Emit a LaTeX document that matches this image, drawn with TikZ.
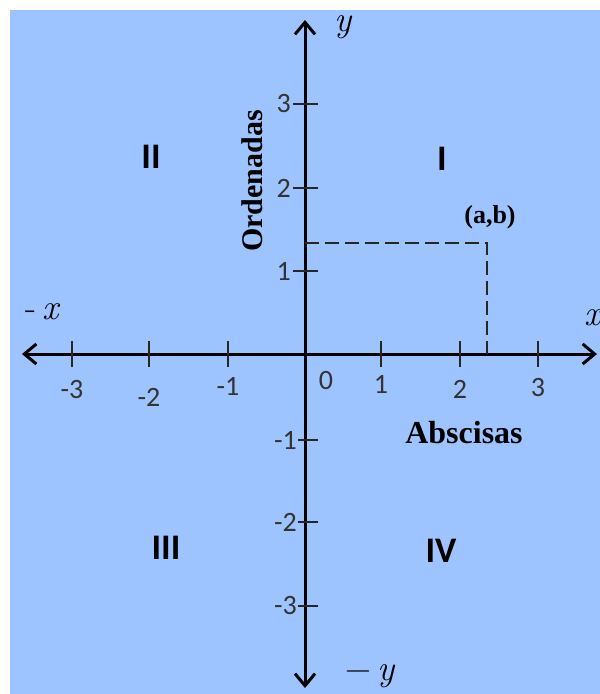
\documentclass[tikz,border=0pt]{standalone}
\usepackage{fontspec}
\setsansfont{Carlito}
\newfontfamily\bserif{Liberation Serif}
\usetikzlibrary{arrows.meta}
\definecolor{bgblue}{RGB}{158,196,255}
\begin{document}
\begin{tikzpicture}[x=1pt,y=-1pt,
  barb/.tip={Straight Barb[length=12pt,width=20pt,line width=3pt]},
  axisline/.style={line width=3pt,{barb}-{barb}},
  tickline/.style={line width=2pt,draw=black!85},
  dashline/.style={line width=2pt,draw=black!85,dash pattern=on 14pt off 6pt},
  num/.style={font=\sffamily\fontsize{28}{28}\selectfont,text=black!80,inner sep=0pt},
  quad/.style={font=\sffamily\bfseries\fontsize{36}{36}\selectfont,inner sep=0pt},
  lbl/.style={font=\bserif\bfseries\fontsize{26}{26}\selectfont,inner sep=0pt},
  axlbl/.style={font=\rmfamily\itshape\fontsize{36}{36}\selectfont,inner sep=0pt}]
\useasboundingbox (0,0) rectangle (600,694);
\fill[white] (0,0) rectangle (600,694);
\fill[bgblue] (10,10) rectangle (600,694);
% axes
\coordinate (xl) at (22,354);
\coordinate (xr) at (597,354);
\coordinate (yt) at (305,20);
\coordinate (yb) at (305,688);
\coordinate (o) at (305,354);
\draw[axisline] (xl) -- (xr);
\draw[axisline] (yb) -- (yt);
% x ticks
\foreach \x/\ly/\t in {72/390/-3,149/397/-2,228/386/-1,381/384/1,460/389/2,538/388/3}{
  \draw[tickline] (\x,341) -- (\x,367);
  \node[num] (xt\t) at (\x,\ly) {\t};
}
\node[num] (x0) at (326,381) {0};
% y ticks
\foreach \y/\t in {104/3,188/2,271/1}{
  \draw[tickline] (293,\y) -- (318,\y);
  \node[num,anchor=east] (yt\t) at (291,\y) {\t};
}
\foreach \y/\t in {440/-1,522/-2,606/-3}{
  \draw[tickline] (298,\y) -- (318,\y);
  \node[num,anchor=east] (yt\t) at (297,\y) {\t};
}
% point (a,b)
\coordinate (pa) at (487,354);
\coordinate (pb) at (305,243);
\coordinate (p) at (487,243);
\draw[dashline] (pb) -- (p) -- (pa);
\node[lbl] (ab) at (490,217) {(a,b)};
% labels
\node[lbl,rotate=90,font=\bserif\bfseries\fontsize{30}{30}\selectfont] (ord) at (252,181) {Ordenadas};
\node[lbl,font=\bserif\bfseries\fontsize{32}{32}\selectfont] (abs) at (464,433) {Abscisas};
\node[quad] (q1) at (442,159) {I};
\node[quad] (q2) at (151,157) {II};
\node[quad] (q3) at (166,548) {III};
\node[quad] (q4) at (441,551) {IV};
\node[axlbl] (ly) at (343,27) {y};
\node[axlbl] (lmy) at (370,676) {\upshape\textminus\,\itshape y};
\node[axlbl] (lmx) at (42,312) {\upshape-\,\itshape x};
\node[axlbl] (lx) at (593,318) {x};
\end{tikzpicture}
\end{document}
